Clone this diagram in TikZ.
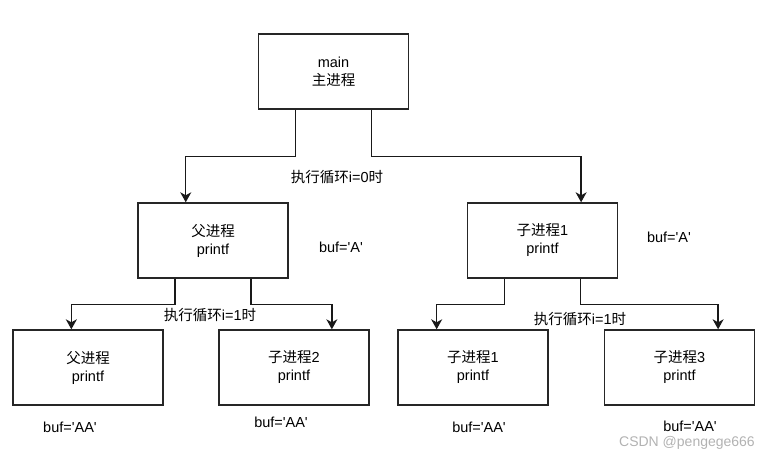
\documentclass[tikz,border=0pt]{standalone}
\usepackage{fontspec}
\setmainfont{Liberation Sans}[Ligatures=TeXOff]
\newfontfamily\cjk{Noto Sans CJK SC}
\usetikzlibrary{arrows.meta,calc}
\newcommand{\zh}[1]{{\cjk #1}}
\newcommand{\buf}[1]{buf='#1'}

\begin{document}
\begin{tikzpicture}[
      x=1pt, y=-1pt,
      every node/.style={font=\fontsize{14.5}{18}\selectfont, inner sep=0pt},
      proc/.style={draw=black!85, line width=1.4pt, minimum width=150pt, minimum height=75pt, align=center},
      note/.style={text=black},
      link/.style={line width=1.4pt, draw=black!90, -{Stealth[length=10pt,width=11pt,inset=3pt]}},
      watermark/.style={text=black!30, font=\fontsize{14}{16}\selectfont}
    ]
    \useasboundingbox (0,0) rectangle (776,460);
    % Draw the processes.
    \node[proc] (main) at (333.5,71.5) {main\\\zh{主进程}};
    \node[proc] (par)  at (213,240.5)  {\zh{父进程}\\printf};
    \node[proc] (chd)  at (542.5,240.5) {\zh{子进程}1\\printf};
    \node[proc] (parL) at (88,367.5)   {\zh{父进程}\\printf};
    \node[proc] (chd2) at (294,367.5)  {\zh{子进程}2\\printf};
    \node[proc] (chd1) at (473,367.5)  {\zh{子进程}1\\printf};
    \node[proc] (chd3) at (679.5,367.5) {\zh{子进程}3\\printf};
    % Draw the forks.
    \draw[link] ($(main.south west)!.25!(main.south east)$) -- ++(0,47) -| ($(par.north west)!.32!(par.north east)$);
    \draw[link] ($(main.south west)!.75!(main.south east)$) -- ++(0,47) -| ($(chd.north west)!.755!(chd.north east)$);
    \draw[link] ($(par.south west)!.25!(par.south east)$) -- ++(0,26) -| ($(parL.north west)!.39!(parL.north east)$);
    \draw[link] ($(par.south west)!.75!(par.south east)$) -- ++(0,26) -| ($(chd2.north west)!.75!(chd2.north east)$);
    \draw[link] ($(chd.south west)!.25!(chd.south east)$) -- ++(0,26) -| ($(chd1.north west)!.26!(chd1.north east)$);
    \draw[link] ($(chd.south west)!.75!(chd.south east)$) -- ++(0,26) -| ($(chd3.north west)!.755!(chd3.north east)$);
    % Draw the loop labels.
    \node[note] (loop0)  at (337,177) {\zh{执行循环}i=0\zh{时}};
    \node[note] (loop1a) at (210,315) {\zh{执行循环}i=1\zh{时}};
    \node[note] (loop1b) at (580,319) {\zh{执行循环}i=1\zh{时}};
    % Draw the buffers.
    \node[note] (bufA1)  at (341,247) {\buf{A}};
    \node[note] (bufA2)  at (669,237) {\buf{A}};
    \node[note] (bufAA1) at (70,427)  {\buf{AA}};
    \node[note] (bufAA2) at (281,422) {\buf{AA}};
    \node[note] (bufAA3) at (479,427) {\buf{AA}};
    \node[note] (bufAA4) at (690,426) {\buf{AA}};
    \node[watermark] (wm) at (687,443) {CSDN @pengege666};
    \end{tikzpicture}
\end{document}
